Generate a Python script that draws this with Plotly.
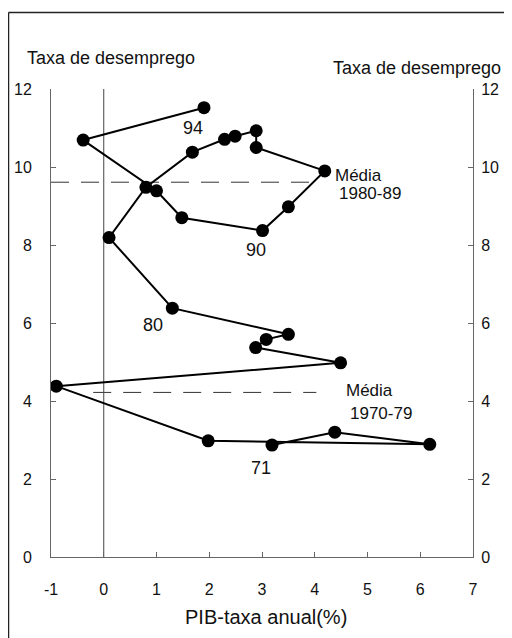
import plotly.graph_objects as go

# Data: GDP growth (%) and unemployment rate (%), 1971-1994
years = list(range(1971, 1995))
gdp = [3.19, 4.38, 6.18, 1.98, -0.90, 4.49, 2.88, 3.08, 3.50,
       1.30, 0.10, 0.80, 1.68, 2.29, 2.49, 2.89, 2.89, 4.19, 3.50,
       3.01, 1.48, 1.00, -0.39, 1.90]
unemp = [2.87, 3.20, 2.89, 2.98, 4.38, 4.98, 5.37, 5.58, 5.71,
         6.38, 8.19, 9.48, 10.38, 10.71, 10.79, 10.93, 10.50, 9.90, 8.98,
         8.37, 8.70, 9.39, 10.69, 11.52]

avg_labels = ["1970-79", "1980-89"]
avg_values = [4.22, 9.61]
avg_x_start = [-0.2, -1.0]
avg_x_end = [4.03, 4.09]

year_labels = ["71", "80", "90", "94"]
year_label_x = [2.99, 0.93, 2.89, 1.69]
year_label_y = [2.27, 5.95, 7.87, 11.0]

x_ticks = [-1, 0, 1, 2, 3, 4, 5, 6, 7]
x_tick_text = ["-1", "0", "1", "2", "3", "4", "5", "6", "7"]
y_ticks = [0, 2, 4, 6, 8, 10, 12]

FONT = "Liberation Sans, Arial, sans-serif"
TXT = "#111111"

fig = go.Figure()

# average dashed lines
for lab, v, xs, xe in zip(avg_labels, avg_values, avg_x_start, avg_x_end):
    fig.add_trace(go.Scatter(x=[xs, xe], y=[v, v], mode="lines",
                             line=dict(color="#333333", width=1, dash="18px,12px"),
                             showlegend=False, hoverinfo="skip"))

# vertical zero line
fig.add_trace(go.Scatter(x=[0, 0], y=[0, 12], mode="lines",
                         line=dict(color="#444444", width=1),
                         showlegend=False, hoverinfo="skip"))

# main path
fig.add_trace(go.Scatter(x=gdp, y=unemp, mode="lines+markers",
                         line=dict(color="black", width=2),
                         marker=dict(color="black", size=13),
                         text=[str(y) for y in years],
                         showlegend=False))

# invisible trace on secondary axis so it renders
fig.add_trace(go.Scatter(x=gdp, y=unemp, yaxis="y2", mode="markers",
                         marker=dict(opacity=0), showlegend=False,
                         hoverinfo="skip"))

annotations = []
for t, x, y in zip(year_labels, year_label_x, year_label_y):
    annotations.append(dict(x=x, y=y, text=t, showarrow=False, xanchor="center",
                            yanchor="middle", font=dict(size=18, color=TXT)))

annotations += [
    dict(x=4.34, y=9.79, text="Média", showarrow=False, xanchor="left", yanchor="middle",
         font=dict(size=17, color=TXT)),
    dict(x=4.42, y=9.33, text=avg_labels[1], showarrow=False, xanchor="left", yanchor="middle",
         font=dict(size=17, color=TXT)),
    dict(x=4.55, y=4.26, text="Média", showarrow=False, xanchor="left", yanchor="middle",
         font=dict(size=17, color=TXT)),
    dict(x=4.63, y=3.67, text=avg_labels[0], showarrow=False, xanchor="left", yanchor="middle",
         font=dict(size=17, color=TXT)),
    dict(xref="paper", yref="paper", x=-0.0616, y=1.066, text="Taxa de desemprego",
         showarrow=False, xanchor="left", yanchor="middle", font=dict(size=18, color=TXT)),
    dict(xref="paper", yref="paper", x=1.071, y=1.045, text="Taxa de desemprego",
         showarrow=False, xanchor="right", yanchor="middle", font=dict(size=18, color=TXT)),
    dict(xref="paper", yref="paper", x=0.509, y=-0.128, text="PIB-taxa anual(%)",
         showarrow=False, xanchor="center", yanchor="middle", font=dict(size=20, color=TXT)),
]

shapes = [
    dict(type="line", xref="paper", yref="paper", x0=-0.1007, x1=-0.1007, y0=1.1635, y1=-0.2,
         line=dict(color="#222", width=1.5)),
    dict(type="line", xref="paper", yref="paper", x0=-0.1007, x1=1.1, y0=1.1635, y1=1.1635,
         line=dict(color="#222", width=1.5)),
]

axis_common = dict(showgrid=False, zeroline=False, showline=True, linecolor="#666",
                   linewidth=1, ticks="inside", ticklen=5, tickcolor="#666",
                   automargin=False,
                   tickfont=dict(size=16, color=TXT, family=FONT))

# the page body adds an 8px offset; figure is sized so the plot lands in the window
fig.update_layout(
    width=504, height=630,
    margin=dict(l=43, r=39, t=81, b=81),
    paper_bgcolor="white", plot_bgcolor="white",
    font=dict(family=FONT, color=TXT),
    xaxis=dict(range=[-1, 7], tickvals=x_ticks, ticktext=x_tick_text,
               ticklabelstandoff=18, **axis_common),
    yaxis=dict(range=[0, 12], tickvals=y_ticks, ticklabelstandoff=15, **axis_common),
    yaxis2=dict(range=[0, 12], tickvals=y_ticks, overlaying="y", side="right",
                ticklabelstandoff=4, **axis_common),
    annotations=annotations,
    shapes=shapes,
)

fig.write_html("out.html")
